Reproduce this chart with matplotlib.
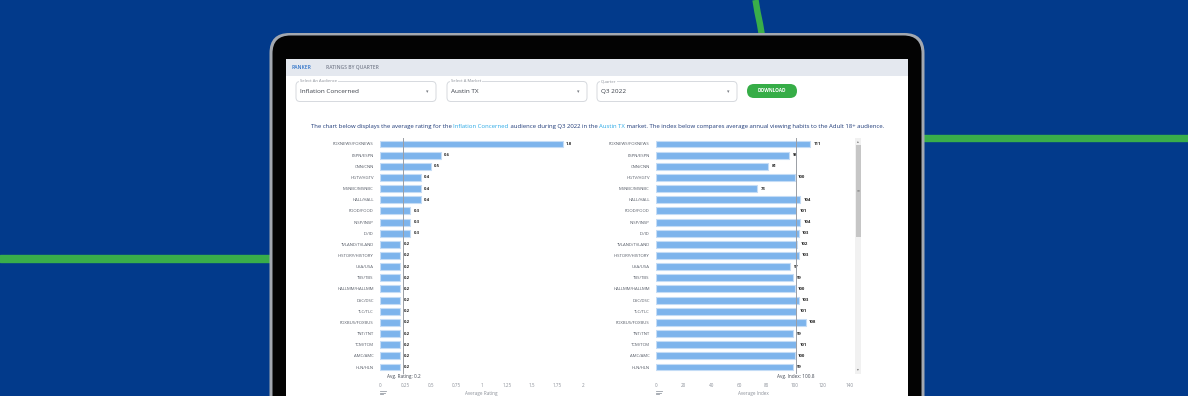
import matplotlib
matplotlib.use("Agg")
import matplotlib.pyplot as plt
from matplotlib.patches import FancyBboxPatch, Rectangle

# ---------------- data ----------------
channels = ["FOXNEWS/FOXNEWS", "ESPN/ESPN", "CNN/CNN", "HGTV/HGTV", "MSNBC/MSNBC",
            "HALL/HALL", "FOOD/FOOD", "INSP/INSP", "ID/ID", "TVLAND/TVLAND",
            "HISTORY/HISTORY", "USA/USA", "TBS/TBS", "HALLMM/HALLMM", "DSC/DSC",
            "TLC/TLC", "FOXBUS/FOXBUS", "TNT/TNT", "TCM/TCM", "AMC/AMC", "HLN/HLN"]
avg_rating = [1.8, 0.6, 0.5, 0.4, 0.4, 0.4, 0.3, 0.3, 0.3, 0.2, 0.2,
              0.2, 0.2, 0.2, 0.2, 0.2, 0.2, 0.2, 0.2, 0.2, 0.2]
avg_index = [111, 96, 81, 100, 73, 104, 101, 104, 103, 102, 103,
             97, 99, 100, 103, 101, 108, 99, 101, 100, 99]
overall_rating = 0.23
overall_index = 100.8
rating_ticks = [0, 0.25, 0.5, 0.75, 1, 1.25, 1.5, 1.75, 2]
rating_tick_labels = ["0", "0.25", "0.5", "0.75", "1", "1.25", "1.5", "1.75", "2"]
index_ticks = [0, 20, 40, 60, 80, 100, 120, 140]
index_tick_labels = ["0", "20", "40", "60", "80", "100", "120", "140"]
audience = "Inflation Concerned"
market = "Austin TX"
quarter = "Q3 2022"

# ---------------- style ----------------
W, H = 1188, 396
NAVY = "#023a8b"
GREEN = "#39ae4a"
BAR = "#7db4ec"
BAR_EDGE = "#c4dcf6"
LABEL = "#555b66"
TICK = "#8a8f98"
FONT = "Open Sans"
plt.rcParams["font.family"] = [FONT, "DejaVu Sans"]

fig = plt.figure(figsize=(W / 100, H / 100), dpi=100)
fig.patch.set_facecolor(NAVY)

bg = fig.add_axes([0, 0, 1, 1])
bg.set_xlim(0, W)
bg.set_ylim(H, 0)
bg.axis("off")
bg.set_facecolor(NAVY)

# green decorative lines
bg.plot([755.5, 757.5, 760, 762], [0, 12, 24, 36], color=GREEN, lw=4.6,
        solid_capstyle="butt", zorder=1)
bg.add_patch(Rectangle((920, 134.5), 270, 6, color=GREEN, zorder=1))
bg.add_patch(Rectangle((0, 254.5), 272, 7, color=GREEN, zorder=1))

# laptop frame
bg.add_patch(FancyBboxPatch((269.5, 33), 655, 420,
                            boxstyle="round,pad=0,rounding_size=20",
                            facecolor="#a3a8b0", edgecolor="none", zorder=2))
bg.add_patch(FancyBboxPatch((272.5, 35.5), 649, 420,
                            boxstyle="round,pad=0,rounding_size=18",
                            facecolor="#030303", edgecolor="none", zorder=3))
bg.add_patch(Rectangle((286, 59), 622, 340, facecolor="white", edgecolor="none", zorder=4))

# tab bar
bg.add_patch(Rectangle((286, 59), 622, 17, facecolor="#e4e8ef", edgecolor="none", zorder=5))
bg.text(292, 67.5, "RANKER", fontsize=3.6, color="#2f73c9", va="center", ha="left",
        zorder=6, fontweight="semibold")
bg.text(326, 67.5, "RATINGS BY QUARTER", fontsize=3.6, color="#7b8190", va="center",
        ha="left", zorder=6, fontweight="semibold")

# dropdowns
for x0, lab, val in [(296, "Select An Audience", audience),
                     (447, "Select A Market", market),
                     (597, "Quarter", quarter)]:
    bg.add_patch(FancyBboxPatch((x0, 81.5), 140, 20,
                                boxstyle="round,pad=0,rounding_size=4",
                                facecolor="white", edgecolor="#d6d9de", lw=0.7, zorder=5))
    bg.text(x0 + 4, 81.5, lab, fontsize=3.0, color="#8a8f98", va="center", ha="left",
            zorder=6, bbox=dict(facecolor="white", edgecolor="none", pad=0.6))
    bg.text(x0 + 4, 91.5, val, fontsize=4.6, color="#3a3f48", va="center", ha="left", zorder=6)
    bg.text(x0 + 131, 92, "\u25be", fontsize=3.6, color="#777b82", va="center",
            ha="center", zorder=6, family="DejaVu Sans")

bg.add_patch(FancyBboxPatch((747, 84), 50, 14, boxstyle="round,pad=0,rounding_size=7",
                            facecolor="#36ad47", edgecolor="none", zorder=5))
bg.text(772, 91, "DOWNLOAD", fontsize=3.4, color="white", va="center", ha="center",
        zorder=6, fontweight="bold")

# description line with coloured parts
DARK = "#1e3a78"
LIGHT = "#2aa9e6"
DESC_FS = 4.3
parts = [("The chart below displays the average rating for the ", DARK),
         (audience, LIGHT),
         (" audience during " + quarter + " in the ", DARK),
         (market, LIGHT),
         (" market. The index below compares average annual viewing habits to the Adult 18+ audience.", DARK)]
t = bg.text(311, 126.5, parts[0][0], fontsize=DESC_FS, color=parts[0][1], va="center",
            ha="left", zorder=6)
for txt, col in parts[1:]:
    t = bg.annotate(txt, xycoords=t, xy=(1, 0), va="bottom", ha="left",
                    fontsize=DESC_FS, color=col, zorder=6)

# scrollbar
bg.add_patch(Rectangle((855, 138), 6, 236, facecolor="#f1f1f1", edgecolor="none", zorder=5))
bg.add_patch(Rectangle((855.5, 145), 5, 92, facecolor="#c6c6c6", edgecolor="none", zorder=6))
bg.text(858, 141.5, "\u25b4", fontsize=2.6, color="#777", ha="center", va="center",
        zorder=7, family="DejaVu Sans")
bg.text(858, 369.5, "\u25be", fontsize=2.6, color="#777", ha="center", va="center",
        zorder=7, family="DejaVu Sans")
bg.text(858, 190, "\u2261", fontsize=2.6, color="#888", ha="center", va="center",
        zorder=7, family="DejaVu Sans")

# sort icons under the charts
for x0 in (380, 656):
    for i, ln in enumerate([6, 4.5, 3]):
        bg.plot([x0, x0 + ln], [391 + i * 1.6] * 2, color="#9aa0a8", lw=0.6, zorder=6)


def px_axes(x0, x1, ytop, ybot):
    return fig.add_axes([x0 / W, 1 - ybot / H, (x1 - x0) / W, (ybot - ytop) / H])


def draw_chart(x0, x1, values, xmax, ticks, tick_labels, overall, avg_text, xlabel, fmt):
    ax = px_axes(x0, x1, 138, 373)
    ax.set_facecolor("none")
    ypos = list(range(len(channels)))
    bars = ax.barh(ypos, values, height=0.62, color=BAR, edgecolor=BAR_EDGE, lw=0.8, zorder=3)
    ax.bar_label(bars, labels=[fmt(v) for v in values], padding=2.5, fontsize=3.1,
                 color="#222", fontweight="bold")
    ax.set_xlim(0, xmax)
    ax.set_ylim(20.538, -0.538)
    ax.set_yticks(ypos)
    ax.set_yticklabels(channels)
    ax.set_xticks(ticks)
    ax.set_xticklabels(tick_labels)
    ax.tick_params(axis="y", length=0, pad=4.5, labelsize=3.1, labelcolor=LABEL)
    ax.tick_params(axis="x", length=0, pad=7.5, labelsize=3.3, labelcolor=TICK)
    for s in ax.spines.values():
        s.set_visible(False)
    ax.axvline(overall, color="#9a9ea5", lw=0.7, zorder=4, clip_on=False)
    ax.text(overall, -0.005, avg_text, transform=ax.get_xaxis_transform(), ha="center",
            va="top", fontsize=3.4, color="#444a55")
    ax.set_xlabel(xlabel, fontsize=3.3, color=TICK, labelpad=1.5)
    return ax


ax1 = draw_chart(380, 583, avg_rating, 2, rating_ticks, rating_tick_labels,
                 overall_rating, "Avg. Rating: %.1f" % overall_rating, "Average Rating",
                 lambda v: "%.1f" % v)
ax2 = draw_chart(656, 850, avg_index, 140, index_ticks, index_tick_labels,
                 overall_index, "Avg. Index: %.1f" % overall_index, "Average Index",
                 lambda v: "%d" % v)

fig.savefig("out.png", dpi=100, facecolor=NAVY)
